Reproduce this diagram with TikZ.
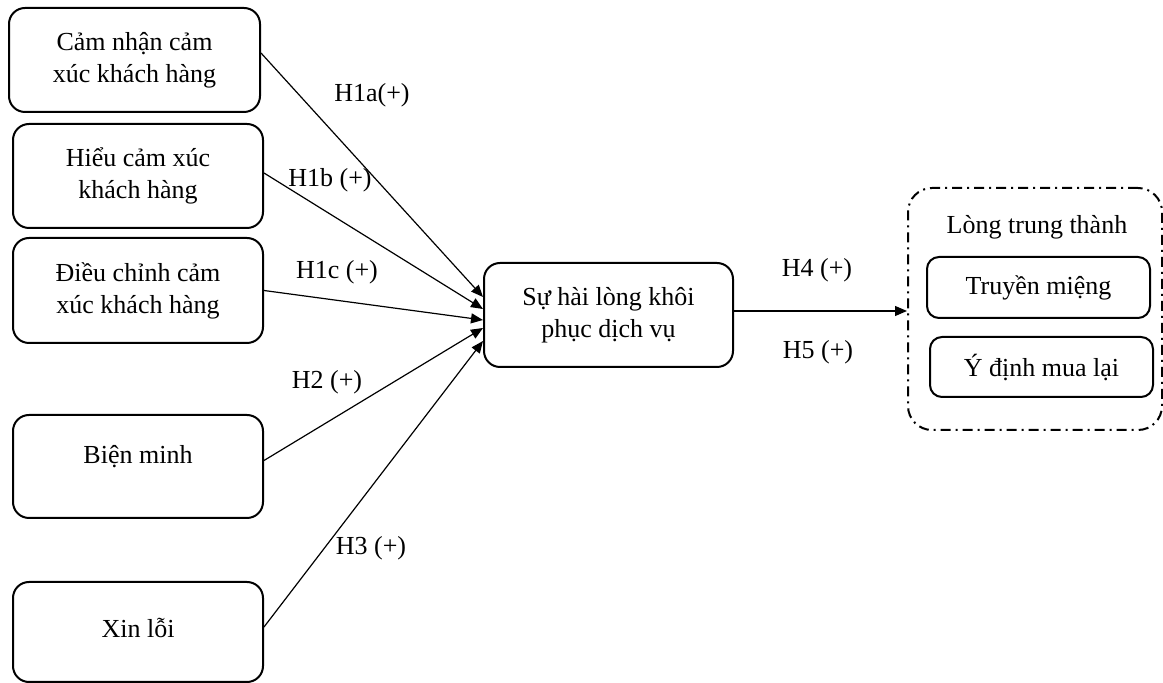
\documentclass[tikz,border=0pt]{standalone}
\usepackage{fontspec}
\setmainfont{Liberation Serif}
\usetikzlibrary{arrows.meta}

\begin{document}
\begin{tikzpicture}[x=0.5pt, y=-0.5pt,
    every node/.style={font=\fontsize{13}{16}\selectfont},
    hop/.style={rectangle, draw, line width=1pt, rounded corners=8pt, align=center,
        minimum width=125pt, minimum height=52pt, inner sep=0pt},
    hopnho/.style={rectangle, draw, line width=1pt, rounded corners=6pt,
        minimum width=111.5pt, minimum height=30.5pt, inner sep=0pt},
    nhom/.style={rectangle, draw, line width=1pt, rounded corners=12pt,
        dash pattern=on 5pt off 2.5pt on 1pt off 2.5pt,
        minimum width=127pt, minimum height=121pt, inner sep=0pt},
    muiten/.style={line width=0.6pt, -{Triangle[length=6pt, width=5pt]}}]

    \useasboundingbox (0,0) rectangle (1163,683);

    % các biến độc lập
    \node[hop, minimum width=125.5pt] (cnc) at (134.5,60) {Cảm nhận cảm\\xúc khách hàng};
    \node[hop] (hcx) at (138,176) {Hiểu cảm xúc\\khách hàng};
    \node[hop, minimum height=52.5pt] (dcc) at (138,290.5) {Điều chỉnh cảm\\xúc khách hàng};
    \node[hop, minimum height=51.5pt, text depth=12pt] (bm) at (138,466.5) {Biện minh};
    \node[hop, minimum height=50pt, text depth=4pt] (xl) at (138,632) {Xin lỗi};

    \node[hop, minimum width=124.5pt] (hl) at (608.5,315) {Sự hài lòng khôi\\phục dịch vụ};

    % lòng trung thành
    \node[nhom] (lt) at (1035,309) {};
    \node (ltt) at (1037,227) {Lòng trung thành};
    \node[hopnho] (tm) at (1038.5,287.5) {Truyền miệng};
    \node[hopnho, minimum height=30pt] (ydm) at (1041.5,367) {Ý định mua lại};

    \draw[muiten] ([yshift=3.5pt]cnc.east) -- ([yshift=9pt]hl.west);
    \draw[muiten] ([yshift=1.5pt]hcx.east) -- ([yshift=3pt]hl.west);
    \draw[muiten] (dcc.east) -- ([yshift=-2.5pt]hl.west);
    \draw[muiten] ([yshift=3pt]bm.east) -- ([yshift=-6.5pt]hl.west);
    \draw[muiten] ([yshift=2.5pt]xl.east) -- ([yshift=-13pt]hl.west);
    \draw[muiten] ([yshift=2pt]hl.east) -- ([yshift=2pt]hl.east -| lt.west);

    \node (h1a) at (372,95) {H1a(+)};
    \node (h1b) at (330,180) {H1b (+)};
    \node (h1c) at (337,272) {H1c (+)};
    \node (h2) at (327,382) {H2 (+)};
    \node (h3) at (371,548) {H3 (+)};
    \node (h4) at (817,270) {H4 (+)};
    \node (h5) at (818,352) {H5 (+)};

\end{tikzpicture}
\end{document}
